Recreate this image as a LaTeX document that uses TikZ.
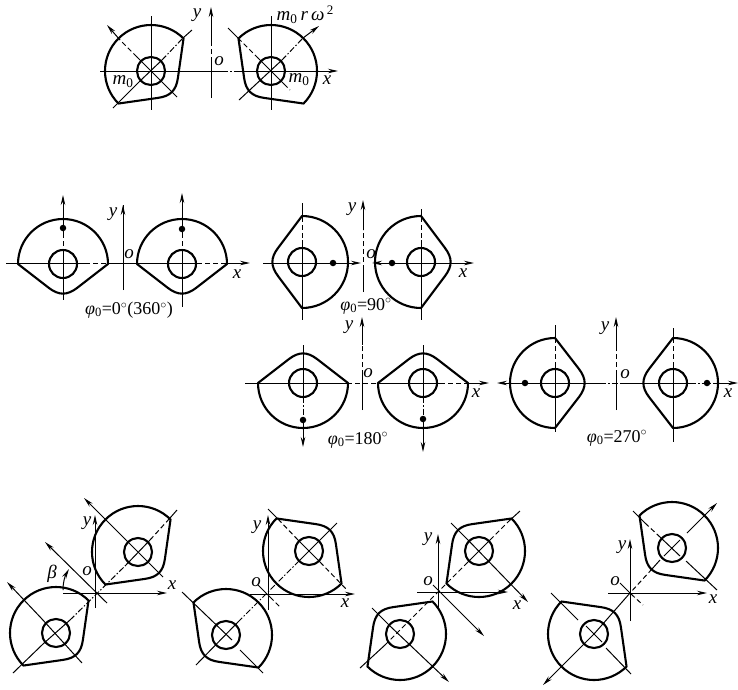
\documentclass[tikz,border=0pt]{standalone}
\usepackage{fontspec}
\setmainfont{Liberation Serif}
\usetikzlibrary{arrows.meta}
\tikzset{
  camline/.style={line width=2.1pt},
  thinline/.style={line width=1pt},
  centreline/.style={line width=1pt,dash pattern=on 6pt off 2pt on 1.5pt off 2pt},
  dashline/.style={line width=1pt,dash pattern=on 5pt off 3pt},
  arrowline/.style={line width=1pt,-{Stealth[length=10pt,width=4.5pt]}},
  label/.style={font=\fontsize{19}{21}\selectfont\itshape,inner sep=0pt},
  caption/.style={font=\fontsize{18}{20}\selectfont,inner sep=0pt},
  dot/.style={circle,fill=black,inner sep=0pt,minimum size=6.5pt}
}
% cam body and hub: centre x, centre y, rotation, radius
\newcommand{\camshape}[4]{
  \begin{scope}[shift={(#1,#2)},rotate=#3]
    \draw[camline,line join=round] (#4,0) arc[start angle=0,end angle=180,radius=#4pt]
      -- (-14,24) .. controls (-4,31.5) and (4,31.5) .. (14,24) -- cycle;
    \draw[camline] (0,0) circle[radius=14pt];
  \end{scope}
}
\begin{document}
\begin{tikzpicture}[x=1pt,y=-1pt]
  \useasboundingbox (0,0) rectangle (738,689);
  % top pair
  \camshape{151}{71}{45}{46}
  \camshape{271}{71}{-45}{46}
  \begin{scope}[thinline]
    \draw (151,16) -- (151,110);
    \draw (271,16) -- (271,110);
    \draw (100,71) -- (222,71);
    \draw (240,71) -- (310,71);
    \draw[centreline] (222,71) -- (240,71);
    \draw (211,98) -- (211,62);
    \draw[dashline] (211,62) -- (211,42);
    \draw[arrowline] (211,42) -- (211,7);
    \draw[arrowline] (310,71) -- (338,71);
    \draw (113,108) -- (140,81);
    \draw (140,81) -- (162,60);
    \draw[centreline] (162,60) -- (183,38);
    \draw (183,38) -- (192,30);
    \draw[arrowline] (120,40) -- (107,25);
    \draw[dashline] (137,57) -- (120,40);
    \draw (137,57) -- (177,97);
    \draw (239,100) -- (282,60);
    \draw[centreline] (282,60) -- (303,38);
    \draw[arrowline] (303,38) -- (319,26);
    \draw (228,28) -- (238,38);
    \draw[dashline] (238,38) -- (258,58);
    \draw (258,58) -- (284,84);
    \draw[dashline] (284,84) -- (290,90);
  \end{scope}
  \node[label] (ytop) at (197,15) {y};
  \node[label] (otop) at (219,61) {o};
  \node[label] (xtop) at (327,80) {x};
  \node[label] (mleft) at (123,82) {m\textsubscript{\upshape 0}};
  \node[label] (mright) at (299,80) {m\textsubscript{\upshape 0}};
  \node[label] (force) at (305,15) {m\textsubscript{\upshape 0}\,r\,ω\raisebox{6pt}{\fontsize{13}{13}\selectfont\upshape\,2}};
  % phi 0
  \camshape{63}{264}{0}{45}
  \camshape{182}{264}{0}{45}
  \begin{scope}[thinline]
    \draw (6,263) -- (85,263);
    \draw[dashline] (85,263) -- (107,263);
    \draw (107,263) -- (138,263);
    \draw (138,263) -- (197,263);
    \draw[dashline] (197,263) -- (225,263);
    \draw[arrowline] (225,263) -- (250,263);
    \draw (123,290) -- (123,205);
    \draw[arrowline] (123,225) -- (123,205);
    \draw[arrowline] (63,233) -- (63,195);
    \draw[dashline] (63,233) -- (63,250);
    \draw (63,250) -- (63,300);
    \draw[arrowline] (182,233) -- (182,193);
    \draw[dashline] (182,233) -- (182,250);
    \draw (182,250) -- (182,307);
  \end{scope}
  \node[dot] (dota) at (63,228) {};
  \node[dot] (dotb) at (182,229) {};
  \node[label] (ya) at (113,214) {y};
  \node[label] (oa) at (129,254) {o};
  \node[label] (xa) at (237,274) {x};
  \node[caption] (capa) at (129,310) {\textit{φ}\textsubscript{0}=0$^\circ$(360$^\circ$)};
  % phi 90
  \camshape{302}{262}{-90}{46}
  \camshape{421}{262}{90}{46}
  \begin{scope}[thinline]
    \draw (302,203) -- (302,217);
    \draw[dashline] (302,217) -- (302,240);
    \draw (302,240) -- (302,320);
    \draw (421,209) -- (421,217);
    \draw[dashline] (421,217) -- (421,240);
    \draw (421,240) -- (421,320);
    \draw (263,263) -- (302,263);
    \draw[arrowline] (302,263) -- (361,263);
    \draw[arrowline] (421,263) -- (372,263);
    \draw[arrowline] (421,263) -- (474,263);
    \draw (363,292) -- (363,270);
    \draw[dashline] (363,270) -- (363,230);
    \draw[arrowline] (363,230) -- (363,200);
  \end{scope}
  \node[dot] (dotc) at (333,263) {};
  \node[dot] (dotd) at (392,263) {};
  \node[label] (yb) at (352,209) {y};
  \node[label] (ob) at (371,254) {o};
  \node[label] (xb) at (463,273) {x};
  \node[caption] (capb) at (366,306) {\textit{φ}\textsubscript{0}=90$^\circ$};
  % phi 180
  \camshape{303}{383}{180}{45}
  \camshape{423}{383}{180}{45}
  \begin{scope}[thinline]
    \draw (245,383) -- (347,383);
    \draw[dashline] (347,383) -- (377,383);
    \draw (377,383) -- (440,383);
    \draw[dashline] (440,383) -- (465,383);
    \draw[arrowline] (465,383) -- (489,383);
    \draw (303,345) -- (303,397);
    \draw[centreline] (303,397) -- (303,420);
    \draw[arrowline] (303,420) -- (303,447);
    \draw (423,345) -- (423,397);
    \draw[centreline] (423,397) -- (423,420);
    \draw[arrowline] (423,420) -- (423,452);
    \draw (362,410) -- (362,375);
    \draw[dashline] (362,375) -- (362,345);
    \draw[arrowline] (362,345) -- (362,317);
  \end{scope}
  \node[dot] (dote) at (303,420) {};
  \node[dot] (dotf) at (423,419) {};
  \node[label] (yc) at (349,327) {y};
  \node[label] (oc) at (368,373) {o};
  \node[label] (xc) at (476,393) {x};
  \node[caption] (capc) at (358,440) {\textit{φ}\textsubscript{0}=180$^\circ$};
  % phi 270
  \camshape{555}{383}{90}{45}
  \camshape{673}{383}{-90}{45}
  \begin{scope}[thinline]
    \draw[arrowline] (555,383) -- (497,383);
    \draw (555,383) -- (600,383);
    \draw[centreline] (600,383) -- (620,383);
    \draw (620,383) -- (690,383);
    \draw[centreline] (690,383) -- (716,383);
    \draw[arrowline] (716,383) -- (738,383);
    \draw (555,325) -- (555,338);
    \draw[dashline] (555,338) -- (555,365);
    \draw (555,365) -- (555,432);
    \draw (673,328) -- (673,338);
    \draw[dashline] (673,338) -- (673,365);
    \draw (673,365) -- (673,442);
    \draw (616,410) -- (616,375);
    \draw[dashline] (616,375) -- (616,350);
    \draw[arrowline] (616,350) -- (616,317);
  \end{scope}
  \node[dot] (dotg) at (525,383) {};
  \node[dot] (doth) at (707,383) {};
  \node[label] (yd) at (605,328) {y};
  \node[label] (od) at (625,374) {o};
  \node[label] (xd) at (728,393) {x};
  \node[caption] (capd) at (617,438) {\textit{φ}\textsubscript{0}=270$^\circ$};
  % bottom row, first
  \camshape{138}{552}{45}{46}
  \camshape{56}{633}{45}{46}
  \begin{scope}[thinline]
    \draw[arrowline] (63,593) -- (167,593);
    \draw[arrowline] (95,608) -- (95,515);
    \draw[arrowline] (125,539) -- (84,498);
    \draw (125,539) -- (163,577);
    \draw[arrowline] (42,619) -- (7,582);
    \draw (42,619) -- (82,663);
    \draw[arrowline] (107,603) -- (45,542);
    \draw (13,673) -- (43,644);
    \draw (43,644) -- (70,620);
    \draw[centreline] (70,620) -- (125,566);
    \draw (125,566) -- (150,540);
    \draw[dashline] (150,540) -- (170,518);
    \draw (170,518) -- (177,510);
    \draw[arrowline] (63,590) .. controls (63,582) and (65,576) .. (69,569);
  \end{scope}
  \node[label] (ye) at (87,523) {y};
  \node[label] (oe) at (87,571) {o};
  \node[label] (xe) at (172,585) {x};
  \node[label] (beta) at (52,574) {β};
  % bottom row, second
  \camshape{309}{551}{135}{46}
  \camshape{226}{635}{-45}{46}
  \begin{scope}[thinline]
    \draw[arrowline] (250,594) -- (355,594);
    \draw[arrowline] (268,610) -- (268,515);
    \draw (196,665) -- (238,622);
    \draw[centreline] (238,622) -- (297,563);
    \draw (297,563) -- (337,523);
    \draw (268,509) -- (278,519);
    \draw[dashline] (278,519) -- (298,540);
    \draw (298,540) -- (320,562);
    \draw[dashline] (320,562) -- (347,590);
    \draw (182,592) -- (232,640);
    \draw (240,650) -- (263,673);
    \draw (258,585) -- (270,597);
    \draw[dashline] (270,597) -- (280,607);
  \end{scope}
  \node[label] (yf) at (257,527) {y};
  \node[label] (of) at (256,582) {o};
  \node[label] (xf) at (345,603) {x};
  % bottom row, third
  \camshape{479}{551}{225}{46}
  \camshape{400}{634}{225}{46}
  \begin{scope}[thinline]
    \draw[arrowline] (417,592) -- (508,592);
    \draw[arrowline] (438,610) -- (438,534);
    \draw (360,668) -- (385,645);
    \draw[dashline] (385,645) -- (467,563);
    \draw (467,563) -- (490,540);
    \draw[dashline] (490,540) -- (509,521);
    \draw (509,521) -- (520,511);
    \draw (451,523) -- (468,540);
    \draw[arrowline] (468,540) -- (528,602);
    \draw[arrowline] (433,585) -- (484,636);
    \draw (372,608) -- (390,626);
    \draw[arrowline] (390,626) -- (449,682);
  \end{scope}
  \node[label] (yg) at (428,539) {y};
  \node[label] (og) at (428,581) {o};
  \node[label] (xg) at (517,605) {x};
  % bottom row, fourth
  \camshape{672}{548}{-45}{46}
  \camshape{594}{634}{135}{46}
  \begin{scope}[thinline]
    \draw[arrowline] (608,593) -- (707,593);
    \draw[arrowline] (630,621) -- (630,539);
    \draw[arrowline] (687,533) -- (717,503);
    \draw (664,556) -- (680,540);
    \draw (660,560) -- (652,569);
    \draw[dashline] (652,569) -- (630,593);
    \draw (630,593) -- (594,634);
    \draw[arrowline] (594,634) -- (543,685);
    \draw (633,511) -- (645,523);
    \draw[dashline] (645,523) -- (660,537);
    \draw (660,537) -- (680,556);
    \draw (686,561) -- (717,590);
    \draw (551,593) -- (578,620);
    \draw (586,626) -- (602,642);
    \draw (606,648) -- (631,674);
    \draw (620,583) -- (631,594);
    \draw[dashline] (631,594) -- (643,605);
  \end{scope}
  \node[label] (yh) at (622,547) {y};
  \node[label] (oh) at (615,581) {o};
  \node[label] (xh) at (713,599) {x};
\end{tikzpicture}
\end{document}
